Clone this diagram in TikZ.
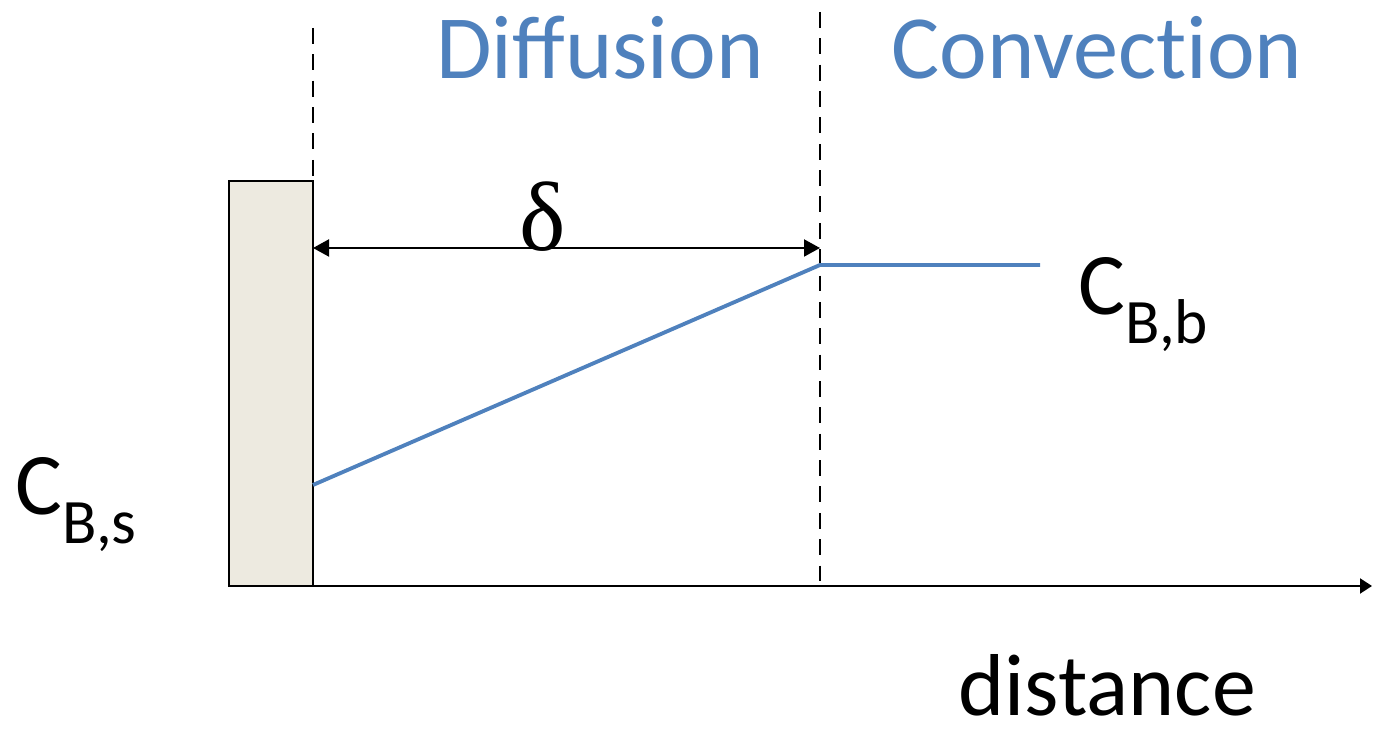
\documentclass[tikz,border=0pt]{standalone}
\usepackage{fontspec}
\setmainfont{Carlito}
\newfontfamily\timesdelta{Liberation Serif}
\usetikzlibrary{arrows.meta}
\definecolor{officeblue}{HTML}{4F81BD}
\definecolor{wallfill}{HTML}{EDEAE0}
\newcommand{\lowsub}[1]{\raisebox{-0.32em}{\fontsize{18}{18}\selectfont #1}}
\tikzset{
  wall/.style={draw=black, line width=0.6pt, fill=wallfill},
  dashline/.style={dash pattern=on 4.5pt off 3pt, line width=0.6pt},
  conc/.style={officeblue, line width=1.1pt},
  axisline/.style={-{Triangle[length=1.2mm, width=1.5mm]}, line width=0.6pt},
  lbl/.style={inner sep=0pt, font=\fontsize{25}{25}\selectfont},
  region/.style={inner sep=0pt, text=officeblue, font=\fontsize{25.7}{26}\selectfont}
}
\begin{document}
\begin{tikzpicture}[scale=1]

        \useasboundingbox (0,0) rectangle (13.73,7.31);

        % Wall
        \draw[wall] (2.29,1.45) rectangle (3.13,5.50);

        % Points
        \coordinate (origin) at (2.29,1.45);
        \coordinate (axisend) at (13.72,1.45);
        \coordinate (walltop) at (3.13,5.50);
        \coordinate (wallline) at (3.13,7.03);
        \coordinate (edgetop) at (8.20,7.19);
        \coordinate (edgebottom) at (8.20,1.45);
        \coordinate (deltaleft) at (3.13,4.83);
        \coordinate (deltaright) at (8.20,4.83);
        \coordinate (surface) at (3.13,2.46);
        \coordinate (edge) at (8.20,4.66);
        \coordinate (bulk) at (10.40,4.66);

        % Axis
        \draw[axisline] (origin) -- (axisend);

        % Dashed borders
        \draw[dashline] (wallline) -- (walltop);
        \draw[dashline] (edgetop) -- (edgebottom);

        % Film thickness
        \draw[{Triangle[length=1.6mm, width=1.7mm]}-{Triangle[length=1.6mm, width=1.7mm]}, line width=0.6pt] (deltaleft) -- (deltaright);
        \node[inner sep=0pt] (delta) at (5.43,5.14) {\timesdelta\fontsize{28}{28}\selectfont δ};

        % Concentration profile
        \draw[conc] (surface) -- (edge) -- (bulk);

        % Labels
        \node[region] (diffusion) at (6.00,6.83) {Diffusion};
        \node[region] (convection) at (10.97,6.83) {Convect\kern0pt ion};
        \node[lbl, anchor=base west] (cbb) at (10.78,4.16) {C\lowsub{B,b}};
        \node[lbl, anchor=base west] (cbs) at (0.15,2.16) {C\lowsub{B,s}};
        \node[lbl, anchor=base west] (distance) at (9.58,0.15) {distance};

    \end{tikzpicture}
\end{document}
